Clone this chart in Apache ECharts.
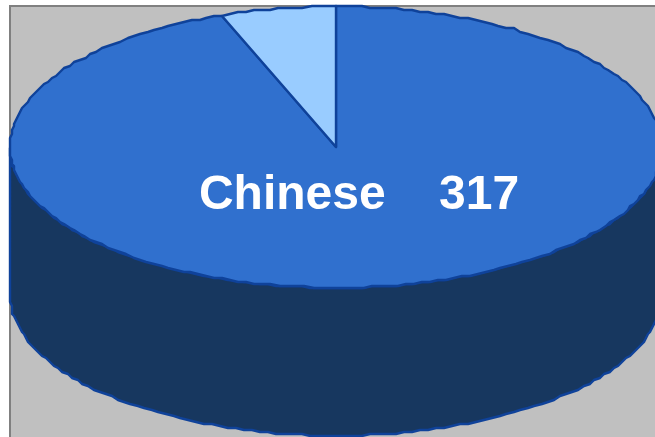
<!DOCTYPE html>
<html>
<head>
<meta charset="utf-8">
<style>html,body{margin:0;padding:0;background:#fff}#chart{width:655px;height:437px}</style>
<script src="https://cdn.jsdelivr.net/npm/echarts@6/dist/echarts.min.js"></script>
</head>
<body>
<div id="chart"></div>
<script>
// Language counts
const categories = ['Chinese', 'Other'];
const values = [317, 19];
const showLabel = [true, false];

// Tilted pie geometry
const cx = 336, cy = 147, rx = 326, ry = 140.6, depth = 148;
const rimGrid = 2;                   // rim vertices sit on a coarse grid, giving the stepped outline
const rimStep = 1.5 * Math.PI / 180; // angular spacing of rim vertices
const sliceColors = ['#3070CE', '#99CCFF'];
const wallColor = '#17375F';
const edgeColor = '#0F429A';

const total = values.reduce((a, b) => a + b, 0);
const snap = v => Math.round(v / rimGrid) * rimGrid;

// Point on the tilted rim, angle measured clockwise from 12 o'clock
const rim = (a, dy = 0) => [snap(cx + rx * Math.sin(a)), snap(cy - ry * Math.cos(a)) + dy];

// Angular extent of slice i; slices run clockwise from 12 o'clock
function sliceRange(i) {
  const before = values.slice(0, i).reduce((a, b) => a + b, 0);
  return [before / total * 2 * Math.PI, (before + values[i]) / total * 2 * Math.PI];
}

function arc(a0, a1, dy) {
  const n = Math.max(2, Math.ceil((a1 - a0) / rimStep));
  const pts = [];
  for (let k = 0; k <= n; k++) pts.push(rim(a0 + (a1 - a0) * k / n, dy));
  return pts;
}

const chart = echarts.init(document.getElementById('chart'), null, { renderer: 'canvas' });
chart.setOption({
  animation: false,
  graphic: {
    elements: [{
      type: 'rect', silent: true, z: -1,
      shape: { x: 10, y: 6, width: 660, height: 450 },
      style: { fill: '#C0C0C0', stroke: '#808080', lineWidth: 2 }
    }]
  },
  series: [
    {
      // Outer wall: the front half of the rim swept down by the pie's depth
      type: 'custom',
      coordinateSystem: 'none',
      silent: true,
      z: 1,
      data: [total],
      renderItem() {
        const top = arc(Math.PI / 2, 3 * Math.PI / 2, 0);
        const bottom = arc(Math.PI / 2, 3 * Math.PI / 2, depth).reverse();
        return {
          type: 'polygon',
          shape: { points: top.concat(bottom) },
          style: { fill: wallColor, stroke: edgeColor, lineWidth: 2.4, lineJoin: 'round' }
        };
      }
    },
    {
      // Top face slices
      type: 'custom',
      coordinateSystem: 'none',
      silent: true,
      z: 2,
      data: values.map((v, i) => ({ name: categories[i], value: v })),
      renderItem(params) {
        const i = params.dataIndex;
        const [a0, a1] = sliceRange(i);
        const children = [{
          type: 'polygon',
          shape: { points: [[cx, cy]].concat(arc(a0, a1, 0)) },
          style: { fill: sliceColors[i], stroke: edgeColor, lineWidth: 2.4, lineJoin: 'round' }
        }];
        if (showLabel[i]) {
          const mid = (a0 + a1) / 2;
          children.push({
            type: 'text',
            z2: 10,
            style: {
              x: cx + rx * Math.sin(mid) * 0.33 + 4,
              y: cy - ry * Math.cos(mid) * 0.33 + 3,
              text: categories[i] + '    ' + values[i],
              fill: '#FFFFFF',
              font: 'bold 48px "Liberation Sans", Arial, sans-serif',
              align: 'center',
              verticalAlign: 'middle'
            }
          });
        }
        return { type: 'group', children };
      }
    }
  ]
});
</script>
</body>
</html>
